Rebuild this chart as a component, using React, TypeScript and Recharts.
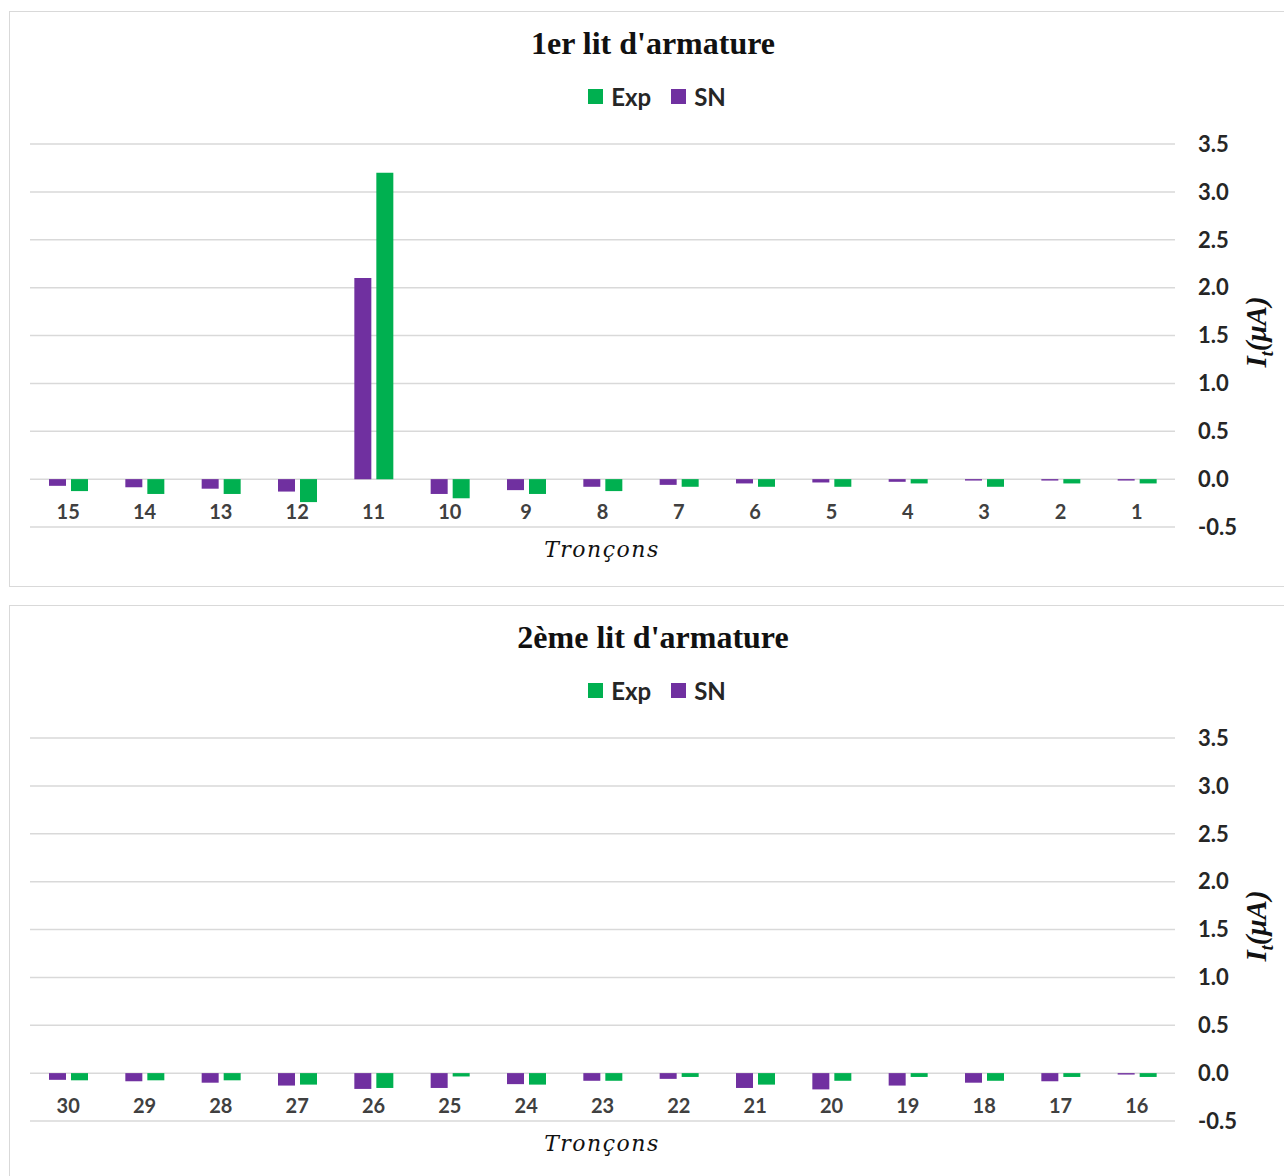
import React from "react";
import { BarChart, Bar, CartesianGrid, XAxis, YAxis } from "recharts";

const cats1 = ["15", "14", "13", "12", "11", "10", "9", "8", "7", "6", "5", "4", "3", "2", "1"];
const sn1 = [-0.07, -0.085, -0.1, -0.13, 2.1, -0.155, -0.115, -0.08, -0.06, -0.045, -0.035, -0.028, -0.015, -0.015, -0.015];
const exp1 = [-0.125, -0.155, -0.155, -0.24, 3.2, -0.2, -0.155, -0.125, -0.08, -0.08, -0.08, -0.045, -0.08, -0.045, -0.045];

const cats2 = ["30", "29", "28", "27", "26", "25", "24", "23", "22", "21", "20", "19", "18", "17", "16"];
const sn2 = [-0.07, -0.085, -0.1, -0.13, -0.165, -0.155, -0.115, -0.08, -0.06, -0.155, -0.17, -0.13, -0.1, -0.085, -0.015];
const exp2 = [-0.075, -0.075, -0.075, -0.12, -0.155, -0.035, -0.12, -0.08, -0.04, -0.12, -0.08, -0.04, -0.08, -0.04, -0.04];

const yTicks = [-0.5, 0, 0.5, 1, 1.5, 2, 2.5, 3, 3.5];
const titles = ["1er lit d'armature", "2ème lit d'armature"];

const SN_COLOR = "#7030A0";
const EXP_COLOR = "#00B050";
const sans = "Lato, 'Open Sans', sans-serif";

function XTick(props: any) {
  const { x, y, payload } = props;
  return (
    <text x={x} y={y} dy={-8} textAnchor="middle" fill="#404040" fontFamily={sans} fontWeight={700} fontSize={20}>
      {payload.value}
    </text>
  );
}

function Panel({ top, title, cats, sn, exp }: { top: number; title: string; cats: string[]; sn: number[]; exp: number[] }) {
  const data = cats.map((c, i) => ({ cat: c, sn: sn[i], exp: exp[i] }));
  return (
    <div style={{ position: "absolute", left: 9, top, width: 1290, height: 576, border: "1px solid #d9d9d9", boxSizing: "border-box", background: "#fff" }}>
      <div style={{ position: "absolute", left: 0, width: 1286, top: 13, textAlign: "center", fontFamily: "'Liberation Serif', serif", fontWeight: 700, fontSize: 32, color: "#111" }}>
        {title}
      </div>
      <div style={{ position: "absolute", left: 0, top: 70, width: 1286, paddingLeft: 8, boxSizing: "border-box", display: "flex", justifyContent: "center", alignItems: "center", fontFamily: sans, fontWeight: 700, fontSize: 24, color: "#262626" }}>
        <span style={{ display: "inline-block", width: 15, height: 15, background: EXP_COLOR, marginRight: 8 }} />
        <span style={{ marginRight: 20 }}>Exp</span>
        <span style={{ display: "inline-block", width: 15, height: 15, background: SN_COLOR, marginRight: 8 }} />
        <span>SN</span>
      </div>
      <div style={{ position: "absolute", left: 0, top: 0 }}>
        <BarChart width={1274} height={574} data={data} margin={{ top: 132, right: 29, bottom: 29, left: 20 }} barSize={17} barGap={5}>
          <CartesianGrid vertical={false} stroke="#d9d9d9" strokeWidth={1.5} />
          <XAxis dataKey="cat" axisLine={false} tickLine={false} tickSize={0} tickMargin={0} height={30} interval={0} tick={<XTick />} />
          <YAxis
            orientation="right"
            domain={[-0.5, 3.5]}
            ticks={yTicks}
            axisLine={false}
            tickLine={false}
            tickSize={0}
            tickMargin={23}
            width={80}
            tickFormatter={(v: number) => v.toFixed(1)}
            tick={{ fill: "#262626", fontFamily: sans, fontWeight: 700, fontSize: 22, textAnchor: "start" }}
          />
          <Bar dataKey="sn" name="SN" fill={SN_COLOR} isAnimationActive={false} />
          <Bar dataKey="exp" name="Exp" fill={EXP_COLOR} isAnimationActive={false} />
        </BarChart>
      </div>
      <div style={{ position: "absolute", left: 0, width: 1184, top: 525, textAlign: "center", fontFamily: "'DejaVu Serif', serif", fontStyle: "italic", fontSize: 22, letterSpacing: 1.5, color: "#111" }}>
        Tronçons
      </div>
      <div style={{ position: "absolute", left: 1249, top: 320, width: 0, height: 0 }}>
        <div style={{ position: "absolute", transform: "translate(-50%, -50%) rotate(-90deg)", whiteSpace: "nowrap", fontFamily: "'Liberation Serif', serif", fontStyle: "italic", fontWeight: 700, fontSize: 29, color: "#111" }}>
          I<sub style={{ fontSize: 18 }}>t</sub>(μA)
        </div>
      </div>
    </div>
  );
}

export default function App() {
  return (
    <div style={{ position: "absolute", left: 0, top: 0, width: 1284, height: 1176, overflow: "hidden", background: "#fff" }}>
      <Panel top={11} title={titles[0]} cats={cats1} sn={sn1} exp={exp1} />
      <Panel top={605} title={titles[1]} cats={cats2} sn={sn2} exp={exp2} />
    </div>
  );
}
